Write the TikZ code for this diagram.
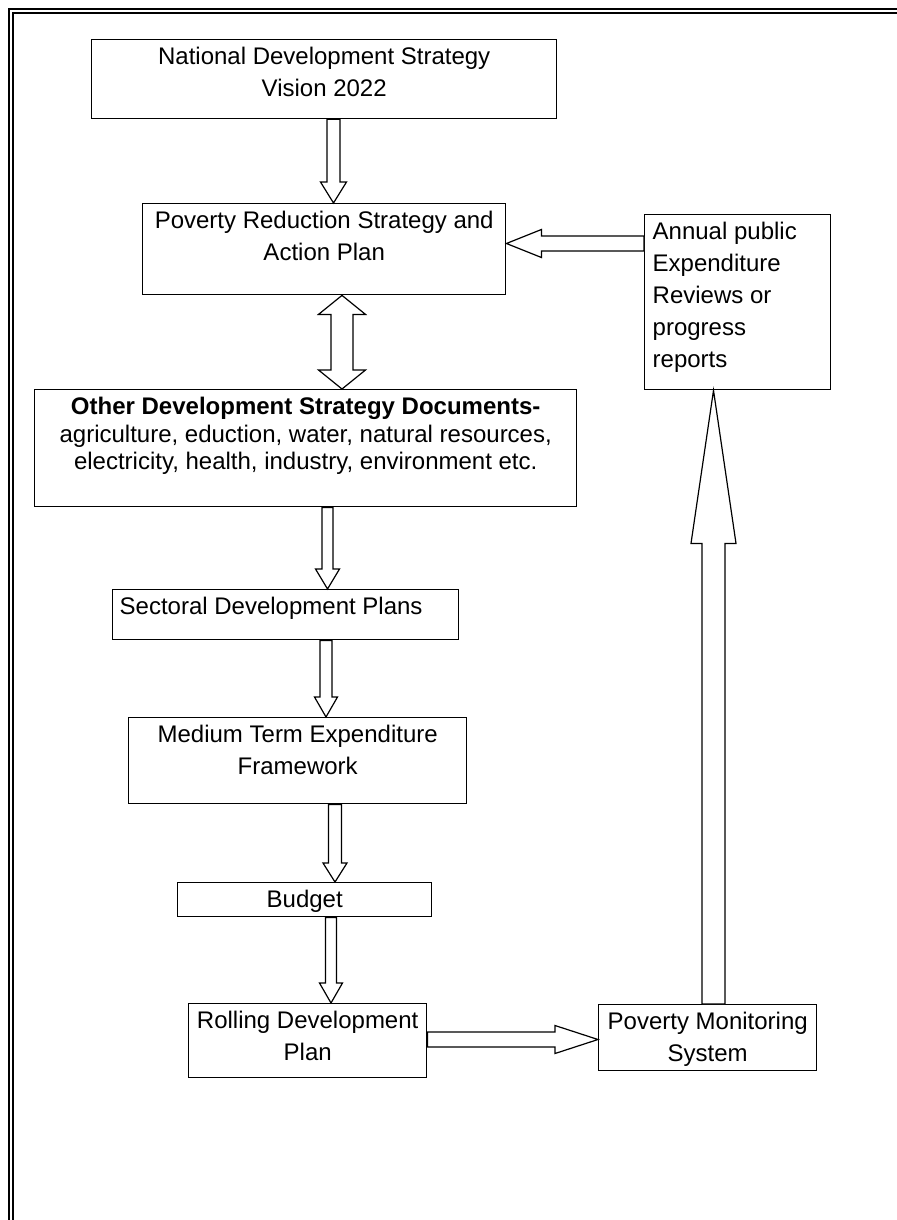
\documentclass[tikz,border=0pt]{standalone}
\usepackage{fontspec}
\setmainfont{Liberation Sans}
\usetikzlibrary{calc}

\newlength{\pxu}\setlength{\pxu}{0.5pt}
% text of a box: width and height in px, text hangs from the top
\newcommand{\boxtxt}[4][\centering]{\parbox[t][#3\pxu][t]{#2\pxu}{#1\rule{0pt}{12.5pt}#4}}
% hollow block arrows: from, to, shaft half width, head half width, head length (px)
\newcommand{\blkarrow}[5]{\draw[blk] let \p1=#1, \p2=#2, \n1={atan2(\y2-\y1,\x2-\x1)}, \n2={veclen(\x2-\x1,\y2-\y1)} in
  [shift={(\p1)},rotate=\n1] (0pt,{-#3*0.5pt}) -- ({\n2-#5*0.5pt},{-#3*0.5pt}) -- ({\n2-#5*0.5pt},{-#4*0.5pt}) -- ({\n2},0pt)
  -- ({\n2-#5*0.5pt},{#4*0.5pt}) -- ({\n2-#5*0.5pt},{#3*0.5pt}) -- (0pt,{#3*0.5pt}) -- cycle;}
\newcommand{\dblarrow}[5]{\draw[blk] let \p1=#1, \p2=#2, \n1={atan2(\y2-\y1,\x2-\x1)}, \n2={veclen(\x2-\x1,\y2-\y1)} in
  [shift={(\p1)},rotate=\n1] (0pt,0pt) -- ({#5*0.5pt},{-#4*0.5pt}) -- ({#5*0.5pt},{-#3*0.5pt}) -- ({\n2-#5*0.5pt},{-#3*0.5pt})
  -- ({\n2-#5*0.5pt},{-#4*0.5pt}) -- ({\n2},0pt) -- ({\n2-#5*0.5pt},{#4*0.5pt}) -- ({\n2-#5*0.5pt},{#3*0.5pt})
  -- ({#5*0.5pt},{#3*0.5pt}) -- ({#5*0.5pt},{#4*0.5pt}) -- cycle;}

\begin{document}
\begin{tikzpicture}[x=0.5pt,y=-0.5pt,every node/.style={font=\fontsize{12}{16}\selectfont}]
	\tikzstyle{doc}=[draw,line width=0.7pt,inner sep=0pt,anchor=north west]
	\tikzstyle{blk}=[draw,line width=0.6pt,fill=white]

	\useasboundingbox (0,0) rectangle (897,1220);
	\clip (0,0) rectangle (897,1220);
	\draw[double,line width=1pt,double distance=1pt] (11,11) rectangle (940,1260);

	\node[doc] (nds) at (91,39) {\boxtxt{465}{79}{National Development Strategy\\Vision 2022}};
	\node[doc] (prs) at (142,203) {\boxtxt{363}{91}{Poverty Reduction Strategy and\\Action Plan}};
	\node[doc] (apr) at (644,214) {\boxtxt[\raggedright\leftskip=4pt]{186}{175}{Annual public\\Expenditure\\Reviews or\\progress\\reports}};
	\node[doc] (ods) at (34,389) {\boxtxt[\centering\fontsize{12}{13.75}\selectfont]{542}{117}{\textbf{Other Development Strategy Documents-}\\agriculture, eduction, water, natural resources,\\electricity, health, industry, environment etc.}};
	\node[doc] (sdp) at (112,589) {\boxtxt[\raggedright\leftskip=3.5pt]{346}{50}{Sectoral Development Plans}};
	\node[doc] (mtef) at (128,717) {\boxtxt{338}{86}{Medium Term Expenditure\\Framework}};
	\node[doc] (bud) at (177,882) {\boxtxt{254}{34}{Budget}};
	\node[doc] (rdp) at (188,1003) {\boxtxt{238}{74}{Rolling Development\\Plan}};
	\node[doc] (pms) at (598,1004) {\boxtxt{218}{66}{Poverty Monitoring\\System}};

	\blkarrow{(333.5,0 |- nds.south)}{(333.5,0 |- prs.north)}{6.5}{13}{21}
	\blkarrow{(apr.west |- 0,243.5)}{(prs.east |- 0,243.5)}{7.5}{14}{35}
	\dblarrow{(342,0 |- prs.south)}{(342,0 |- ods.north)}{11}{23.5}{19}
	\blkarrow{(327.5,0 |- ods.south)}{(327.5,0 |- sdp.north)}{5.5}{12}{20}
	\blkarrow{(326,0 |- sdp.south)}{(326,0 |- mtef.north)}{6}{11.5}{20}
	\blkarrow{(335,0 |- mtef.south)}{(335,0 |- bud.north)}{6.5}{12}{19}
	\blkarrow{(331,0 |- bud.south)}{(331,0 |- rdp.north)}{5.5}{11.5}{20}
	\blkarrow{(rdp.east |- 0,1039.5)}{(pms.west |- 0,1039.5)}{7.5}{14}{43}
	\blkarrow{(713.5,0 |- pms.north)}{(713.5,0 |- apr.south)}{11.5}{22.5}{153}
\end{tikzpicture}
\end{document}
